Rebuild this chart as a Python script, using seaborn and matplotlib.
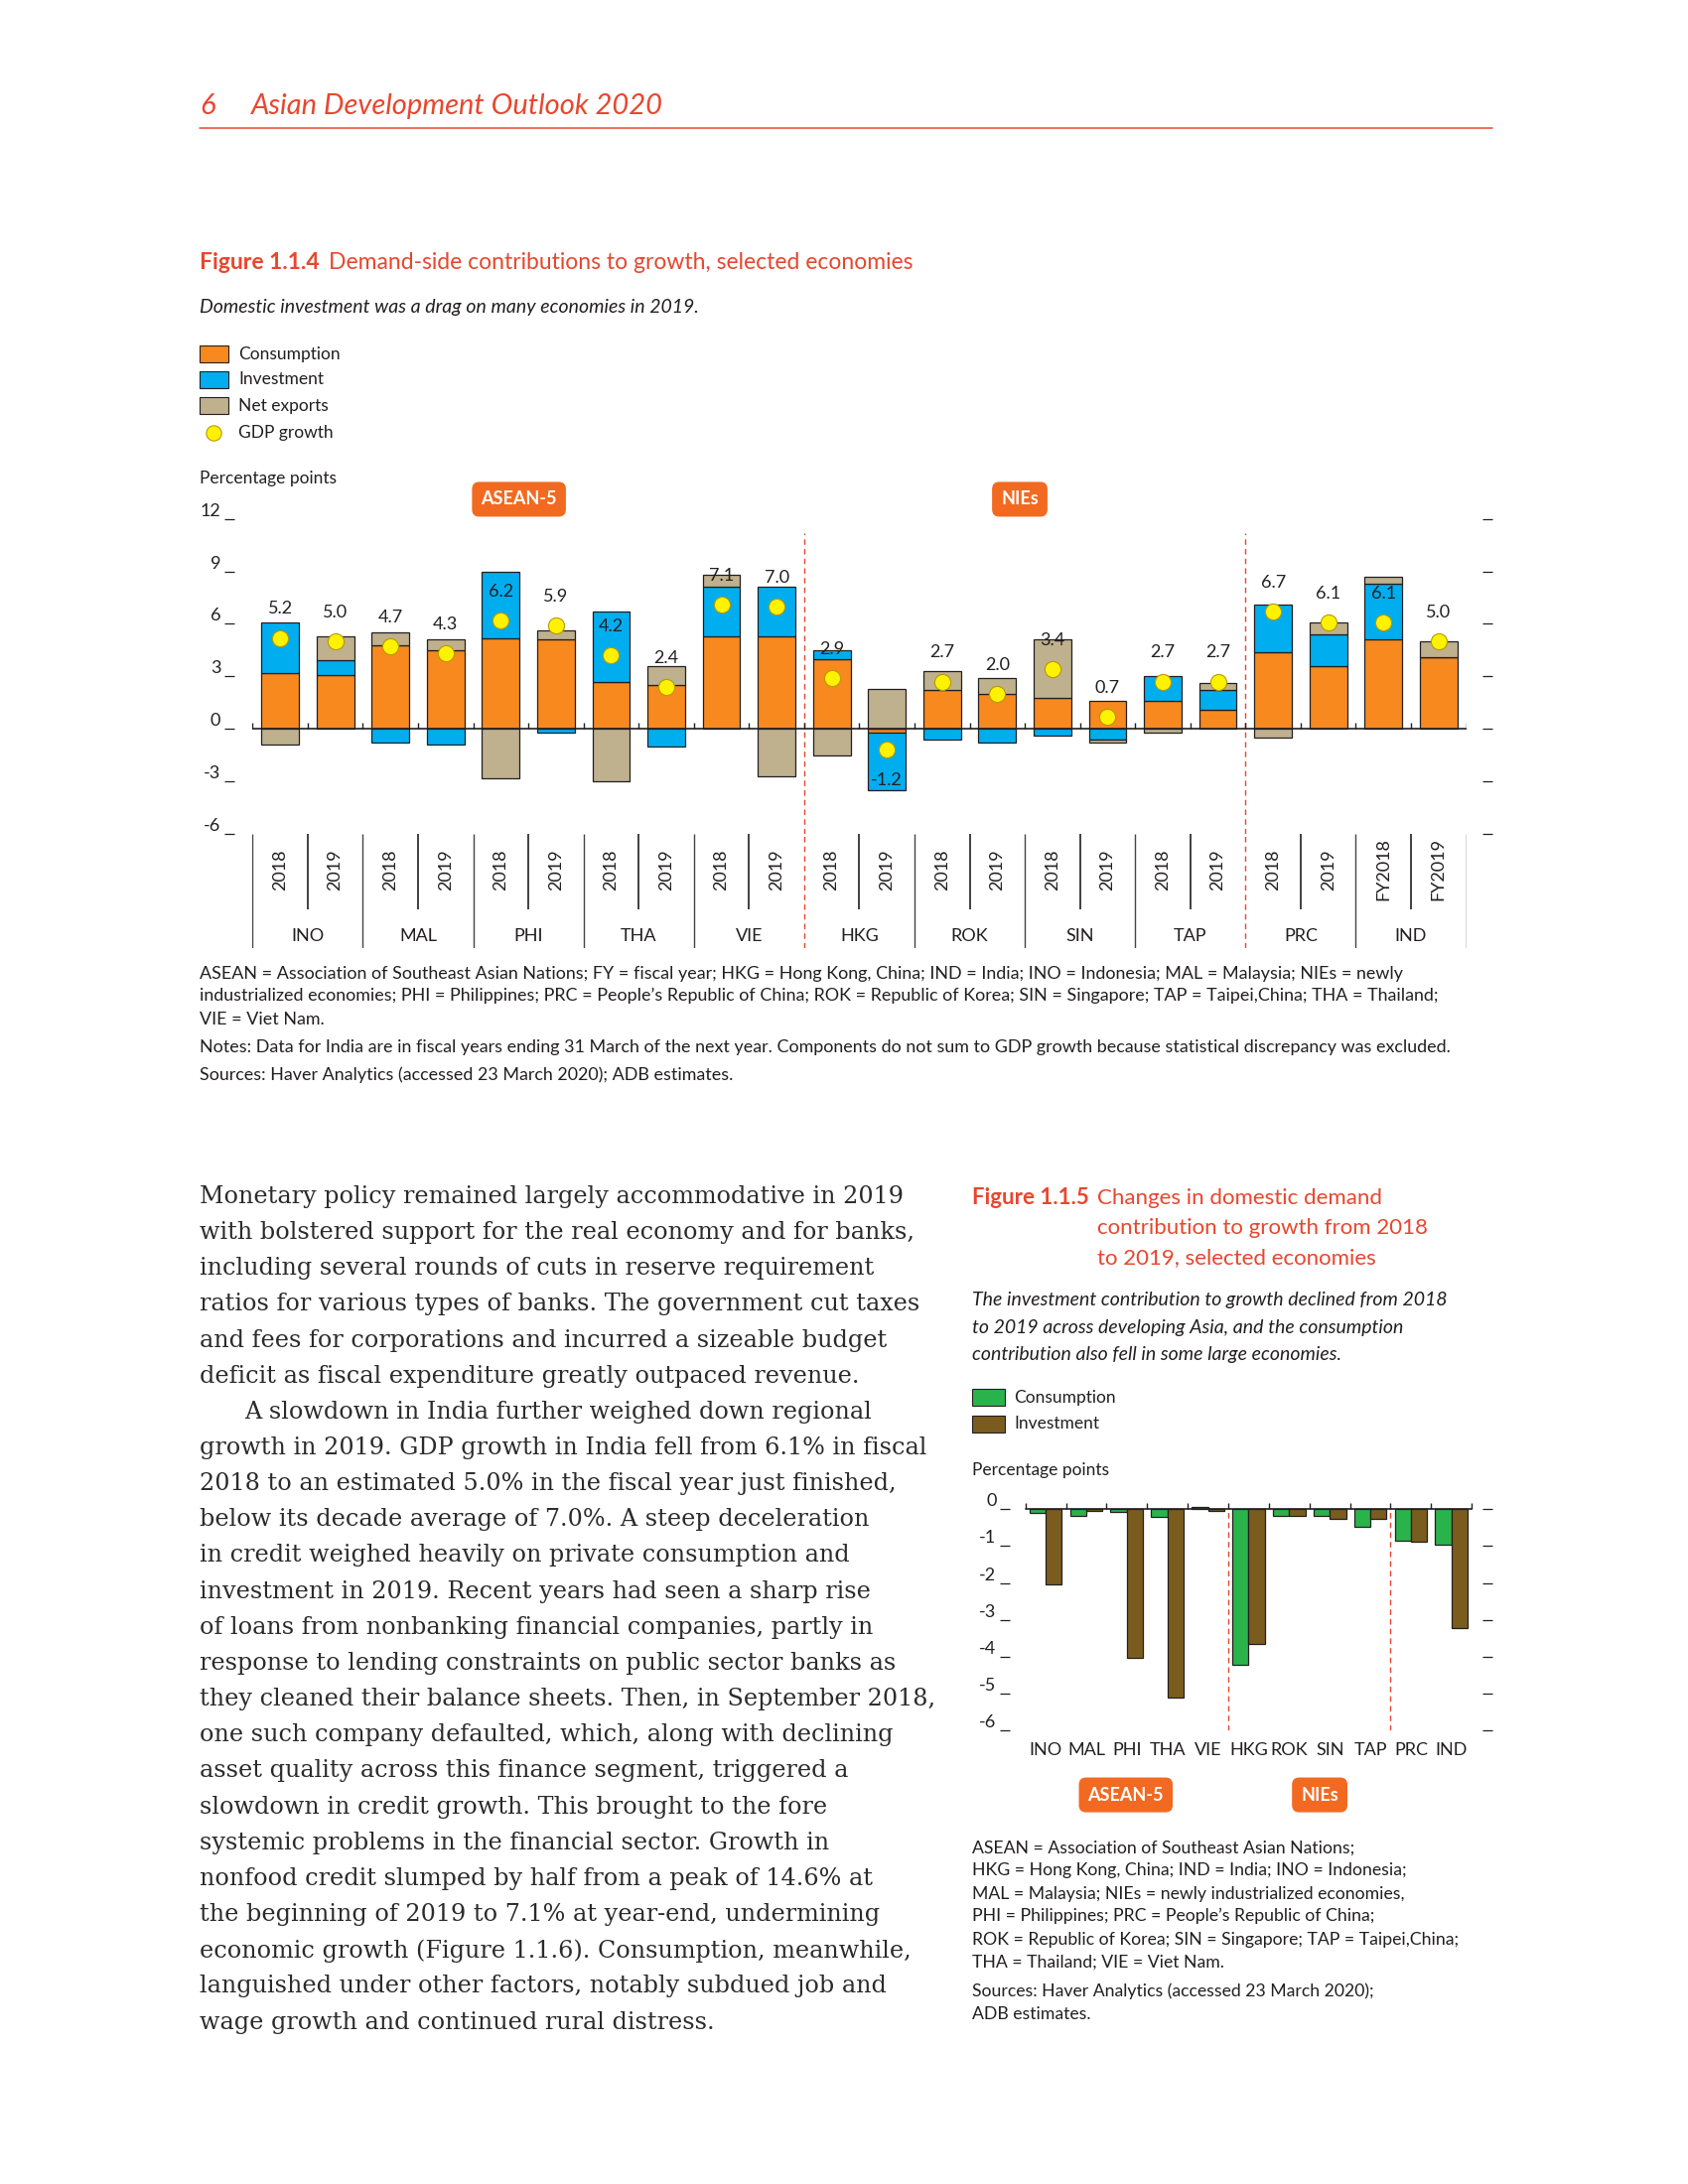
# Page 6, ADO 2020: figures 1.1.4 and 1.1.5 with the body text
import numpy as np
import pandas as pd
import matplotlib
matplotlib.use("Agg")
import matplotlib.pyplot as plt
import seaborn as sns
from matplotlib.patches import Rectangle
from matplotlib.lines import Line2D

sns.set_theme(style="white")
plt.rcParams['font.family'] = ['Lato', 'DejaVu Sans']
plt.rcParams['axes.unicode_minus'] = False

# ------------------------------
# Data - Figure 1.1.4
# ------------------------------
economies = ['INO', 'MAL', 'PHI', 'THA', 'VIE', 'HKG', 'ROK', 'SIN', 'TAP', 'PRC', 'IND']
years = ['2018', '2019'] * 10 + ['FY2018', 'FY2019']
consumption = [3.2, 3.1, 4.8, 4.5, 5.2, 5.1, 2.7, 2.5, 5.3, 5.3, 4.0, -0.2,
               2.2, 2.0, 1.8, 1.6, 1.6, 1.1, 4.4, 3.6, 5.1, 4.1]
investment = [2.9, 0.8, -0.8, -0.9, 3.8, -0.2, 4.0, -1.0, 2.8, 2.8, 0.5, -3.3,
              -0.6, -0.8, -0.4, -0.6, 1.4, 1.1, 2.7, 1.8, 3.2, 0.0]
net_exports = [-0.9, 1.4, 0.7, 0.6, -2.8, 0.5, -3.0, 1.1, 0.7, -2.7, -1.5, 2.3,
               1.1, 0.9, 3.3, -0.2, -0.2, 0.4, -0.5, 0.7, 0.4, 0.9]
gdp_growth = [5.2, 5.0, 4.7, 4.3, 6.2, 5.9, 4.2, 2.4, 7.1, 7.0, 2.9, -1.2,
              2.7, 2.0, 3.4, 0.7, 2.7, 2.7, 6.7, 6.1, 6.1, 5.0]

# ------------------------------
# Data - Figure 1.1.5 (change 2018 -> 2019)
# ------------------------------
cons_change = [-0.10, -0.19, -0.07, -0.22, 0.05, -4.22, -0.19, -0.19, -0.49, -0.87, -0.97]
inv_change = [-2.03, -0.05, -4.03, -5.09, -0.05, -3.66, -0.19, -0.27, -0.27, -0.89, -3.22]

# colours
ORANGE = '#F7891F'
BLUE = '#00AEEF'
TAN = '#BFB08E'
YELLOW = '#FFF200'
GREEN = '#2BB34B'
BROWN = '#7A5C1E'
RED = '#E9462E'
BADGE = '#F26A21'
TXT = '#231F20'
EDGE = '#231F20'

# page coordinates (page units -> figure fraction)
W, H = 1210, 1566
fig = plt.figure(figsize=(17, 22), dpi=100, facecolor='white')
renderer = fig.canvas.get_renderer()


def fx(x):
    return x / W


def fy(y):
    return 1 - y / H


def rect(l, t, r, b):
    return [fx(l), fy(b), (r - l) / W, (b - t) / H]


def put(x, y, s, **kw):
    kw.setdefault('va', 'center')
    kw.setdefault('color', TXT)
    return fig.text(fx(x), fy(y), s, **kw)


def fit(s, width, size, **kw):
    # font size so that s spans `width` page units
    t = fig.text(0, 0, s, fontsize=size, **kw)
    w = t.get_window_extent(renderer).width
    t.remove()
    return size * width * (1700 / W) / w


def swatch(x, y, w, h, col):
    fig.add_artist(Rectangle((fx(x), fy(y + h / 2)), w / W, h / H,
                             transform=fig.transFigure, fc=col, ec=EDGE, lw=0.8))


def badge(x, y, s):
    put(x, y, s, ha='center', color='white', fontweight='bold', fontsize=13,
        bbox=dict(boxstyle='round,pad=0.5,rounding_size=0.4', fc=BADGE, ec='none'))


# ------------------------------
# Running header
# ------------------------------
put(143, 76, '6', fontsize=21, style='italic', color=RED)
put(180, 76, 'Asian Development Outlook 2020', fontsize=21, style='italic', color=RED)
fig.add_artist(Line2D([fx(143), fx(1070)], [fy(92), fy(92)], color=RED, lw=1.1,
                      transform=fig.transFigure))

# ------------------------------
# Figure 1.1.4 titles and legend
# ------------------------------
t1 = put(143, 188, 'Figure 1.1.4', fontsize=16.5, fontweight='bold', color=RED)
ann_ax = fig.add_axes([0, 0, 1, 1], facecolor='none')
ann_ax.axis('off')
ann_ax.annotate('Demand-side contributions to growth, selected economies', xy=(1, 0),
                xycoords=t1, xytext=(7, 0), textcoords='offset points',
                va='bottom', ha='left', fontsize=16.5, color=RED, annotation_clip=False)
put(143, 220, 'Domestic investment was a drag on many economies in 2019.',
    fontsize=14, style='italic')

leg1 = [('Consumption', ORANGE), ('Investment', BLUE), ('Net exports', TAN)]
for k, (name, col) in enumerate(leg1):
    yy = [254, 272, 291][k]
    swatch(143, yy, 21, 12, col)
    put(171, yy, name, fontsize=12.5)
fig.add_artist(Line2D([fx(153)], [fy(310)], marker='o', markersize=11, color=YELLOW,
                      markeredgecolor='#B89A00', markeredgewidth=0.8, transform=fig.transFigure))
put(171, 310, 'GDP growth', fontsize=12.5)
put(143, 343, 'Percentage points', fontsize=12.5)
badge(372, 358, 'ASEAN-5')
badge(731, 358, 'NIEs')

# ------------------------------
# Figure 1.1.4 chart: stacked bars
# ------------------------------
ax1 = fig.add_axes(rect(181, 372, 1051, 598))
keys = [f"{economies[i // 2]} {years[i]}" for i in range(len(years))]
pos = np.zeros(len(keys))
neg = np.zeros(len(keys))
for vals, col in [(consumption, ORANGE), (investment, BLUE), (net_exports, TAN)]:
    v = np.array(vals, dtype=float)
    bottom = np.where(v >= 0, pos, neg)
    sns.barplot(x=keys, y=v, bottom=bottom, color=col, saturation=1, width=0.68,
                edgecolor=EDGE, linewidth=0.9, errorbar=None, ax=ax1, zorder=2)
    pos = pos + np.clip(v, 0, None)
    neg = neg + np.clip(v, None, 0)

xs = np.arange(len(keys))
sns.scatterplot(x=xs, y=gdp_growth, s=135, color=YELLOW, edgecolor='#B89A00',
                linewidth=0.8, zorder=5, ax=ax1, legend=False)
for i, g in enumerate(gdp_growth):
    ax1.annotate(f"{g:.1f}", (i, g), xytext=(0, 21 if g > 0 else -22),
                 textcoords='offset points', ha='center', va='center',
                 fontsize=13, color=TXT, zorder=6)

ax1.axhline(0, color=TXT, lw=1.2, zorder=3)
ax1.vlines(np.arange(-0.5, len(keys)), 0, 0.35, colors=TXT, lw=1, zorder=3)
ax1.vlines([9.5, 17.5], -6, 11.2, colors=RED, linestyles=(0, (4, 3)), lw=1, zorder=1)
ax1.set_xlim(-0.5, len(keys) - 0.5)
ax1.set_ylim(-6, 12)
ax1.set_xticks([])
ax1.set_yticks([-6, -3, 0, 3, 6, 9, 12])
ax1.set_yticklabels(['-6', '-3', '0', '3', '6', '9', '12'])
ax1.set_xlabel('')
ax1.set_ylabel('')
for s in ['top', 'bottom']:
    ax1.spines[s].set_visible(False)
ax1.spines['left'].set_position(('outward', 13))
ax1.spines['right'].set_position(('outward', 12))
ax1.spines['left'].set_color('none')
ax1.spines['right'].set_color('none')
ax1.tick_params(axis='y', left=True, right=True, labelleft=True, labelright=False,
                length=7, width=0.9, color=TXT, direction='out', pad=3,
                labelsize=13, labelcolor=TXT)
plt.setp(ax1.get_yticklabels(), va='bottom')
ax1.patch.set_alpha(0)

# band with the year and economy labels
axb = fig.add_axes(rect(181, 598, 1051, 680))
axb.set_xlim(-0.5, len(keys) - 0.5)
axb.set_ylim(0, 1)
axb.axis('off')
group_edges = [e for e in np.arange(-0.5, len(keys), 2) if e not in (9.5, 17.5)]
axb.vlines(group_edges, 0, 1, colors='#444444', lw=1)
axb.vlines(np.arange(0.5, len(keys), 2), 0.34, 1, colors=TXT, lw=1.2)
axb.vlines([9.5, 17.5], 0, 1, colors=RED, linestyles=(0, (4, 3)), lw=1)
for i, yr in enumerate(years):
    axb.text(i, 0.69, yr, rotation=90, ha='center', va='center', fontsize=13, color=TXT)
for k, e in enumerate(economies):
    axb.text(2 * k + 0.5, 0.11, e, ha='center', va='center', fontsize=13, color=TXT)

# footnotes for figure 1.1.4
notes1 = [
    'ASEAN = Association of Southeast Asian Nations; FY = fiscal year; HKG = Hong Kong, China; '
    'IND = India; INO = Indonesia; MAL = Malaysia; NIEs = newly',
    'industrialized economies; PHI = Philippines; PRC = People\u2019s Republic of China; '
    'ROK = Republic of Korea; SIN = Singapore; TAP = Taipei,China; THA = Thailand;',
    'VIE = Viet Nam.',
    'Notes: Data for India are in fiscal years ending 31 March of the next year. '
    'Components do not sum to GDP growth because statistical discrepancy was excluded.',
    'Sources: Haver Analytics (accessed 23 March 2020); ADB estimates.',
]
fn1 = fit(notes1[0], 855, 12)
for line, yy in zip(notes1, [698, 714, 731, 751, 771]):
    put(143, yy, line, fontsize=fn1)

# ------------------------------
# Body text (left column)
# ------------------------------
body = [
    'Monetary policy remained largely accommodative in 2019',
    'with bolstered support for the real economy and for banks,',
    'including several rounds of cuts in reserve requirement',
    'ratios for various types of banks. The government cut taxes',
    'and fees for corporations and incurred a sizeable budget',
    'deficit as fiscal expenditure greatly outpaced revenue.',
    'A slowdown in India further weighed down regional',
    'growth in 2019. GDP growth in India fell from 6.1% in fiscal',
    '2018 to an estimated 5.0% in the fiscal year just finished,',
    'below its decade average of 7.0%. A steep deceleration',
    'in credit weighed heavily on private consumption and',
    'investment in 2019. Recent years had seen a sharp rise',
    'of loans from nonbanking financial companies, partly in',
    'response to lending constraints on public sector banks as',
    'they cleaned their balance sheets. Then, in September 2018,',
    'one such company defaulted, which, along with declining',
    'asset quality across this finance segment, triggered a',
    'slowdown in credit growth. This brought to the fore',
    'systemic problems in the financial sector. Growth in',
    'nonfood credit slumped by half from a peak of 14.6% at',
    'the beginning of 2019 to 7.1% at year-end, undermining',
    'economic growth (Figure 1.1.6). Consumption, meanwhile,',
    'languished under other factors, notably subdued job and',
    'wage growth and continued rural distress.',
]
body_size = fit(body[1], 512, 16, family='DejaVu Serif')
for k, line in enumerate(body):
    put(175 if k == 6 else 143, 858 + k * 25.74, line, fontsize=body_size,
        family='DejaVu Serif', color='#2B2B2B')

# ------------------------------
# Figure 1.1.5 titles and legend
# ------------------------------
t5 = put(697, 859, 'Figure 1.1.5', fontsize=16, fontweight='bold', color=RED)
l1 = ann_ax.annotate('Changes in domestic demand', xy=(1, 0), xycoords=t5,
                     xytext=(6, 0), textcoords='offset points', va='bottom', ha='left',
                     fontsize=16, color=RED, annotation_clip=False)
for k, line in enumerate(['contribution to growth from 2018', 'to 2019, selected economies']):
    ann_ax.annotate(line, xy=(0, 0), xycoords=l1, xytext=(0, -21.5 * (k + 1)),
                    textcoords='offset points', va='bottom', ha='left', fontsize=16,
                    color=RED, annotation_clip=False)
sub5 = ['The investment contribution to growth declined from 2018',
        'to 2019 across developing Asia, and the consumption',
        'contribution also fell in some large economies.']
for line, yy in zip(sub5, [932, 952, 971]):
    put(697, yy, line, fontsize=14, style='italic')
for (name, col), yy in zip([('Consumption', GREEN), ('Investment', BROWN)], [1002, 1021]):
    swatch(697, yy, 23, 12, col)
    put(727, yy, name, fontsize=12.5)
put(697, 1054, 'Percentage points', fontsize=12.5)

# ------------------------------
# Figure 1.1.5 chart: grouped bars
# ------------------------------
ax2 = fig.add_axes(rect(735, 1082, 1055, 1241))
df2 = pd.DataFrame({
    'economy': economies * 2,
    'component': ['Consumption'] * len(economies) + ['Investment'] * len(economies),
    'value': cons_change + inv_change,
})
sns.barplot(data=df2, x='economy', y='value', hue='component', palette=[GREEN, BROWN],
            saturation=1, edgecolor=EDGE, linewidth=0.9, errorbar=None, legend=False,
            ax=ax2, zorder=2, clip_on=False)
ax2.axhline(0, color=TXT, lw=1.2, zorder=3, clip_on=False)
ax2.vlines(np.arange(-0.5, len(economies)), 0, 0.15, colors=TXT, lw=1, zorder=3, clip_on=False)
ax2.vlines([4.5, 8.5], -6, 0, colors=RED, linestyles=(0, (4, 3)), lw=1, zorder=1)
ax2.set_xlim(-0.5, len(economies) - 0.5)
ax2.set_ylim(-6, 0)
ax2.set_xlabel('')
ax2.set_ylabel('')
ax2.set_xticks(range(len(economies)))
ax2.set_xticklabels(economies)
ax2.set_yticks(range(0, -7, -1))
ax2.set_yticklabels([str(v) for v in range(0, -7, -1)])
for s in ['top', 'bottom']:
    ax2.spines[s].set_visible(False)
ax2.spines['left'].set_position(('outward', 11))
ax2.spines['right'].set_position(('outward', 8))
ax2.spines['left'].set_color('none')
ax2.spines['right'].set_color('none')
ax2.tick_params(axis='x', bottom=False, length=0, pad=8, labelsize=13, labelcolor=TXT)
ax2.tick_params(axis='y', left=True, right=True, labelleft=True, labelright=False,
                length=7, width=0.9, color=TXT, direction='out', pad=3,
                labelsize=13, labelcolor=TXT)
plt.setp(ax2.get_yticklabels(), va='bottom')
ax2.patch.set_alpha(0)
badge(807, 1287, 'ASEAN-5')
badge(946, 1287, 'NIEs')

notes5 = [
    'ASEAN = Association of Southeast Asian Nations;',
    'HKG = Hong Kong, China; IND = India; INO = Indonesia;',
    'MAL = Malaysia; NIEs = newly industrialized economies,',
    'PHI = Philippines; PRC = People\u2019s Republic of China;',
    'ROK = Republic of Korea; SIN = Singapore; TAP = Taipei,China;',
    'THA = Thailand; VIE = Viet Nam.',
    'Sources: Haver Analytics (accessed 23 March 2020);',
    'ADB estimates.',
]
fn5 = fit(notes5[4], 350, 12.5)
for line, yy in zip(notes5, [1325, 1341, 1358, 1374, 1391, 1407, 1428, 1444]):
    put(697, yy, line, fontsize=fn5)

fig.savefig('out.png', dpi=100, facecolor='white')
